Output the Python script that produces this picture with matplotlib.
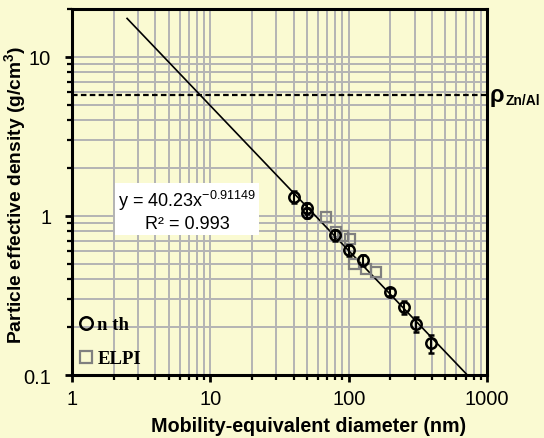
import numpy as np
import matplotlib
matplotlib.use("Agg")
import matplotlib.pyplot as plt
from matplotlib.lines import Line2D
from matplotlib.ticker import LogLocator, NullFormatter, FixedLocator, FixedFormatter
import matplotlib.transforms as mtransforms

plt.rcParams["font.family"] = ["Liberation Sans", "DejaVu Sans"]
plt.rcParams["mathtext.fontset"] = "custom"
plt.rcParams["mathtext.rm"] = "Liberation Sans"
plt.rcParams["mathtext.it"] = "Liberation Sans:italic"
plt.rcParams["mathtext.bf"] = "Liberation Sans:bold"

# Données
nth_d = [40.5, 50, 50, 80, 100, 126, 200, 250, 305, 395]
nth_rho = [1.32, 1.12, 1.05, 0.76, 0.61, 0.525, 0.333, 0.268, 0.208, 0.158]
nth_err = [0.12, 0.09, 0.08, 0.06, 0.05, 0.04, 0.02, 0.025, 0.022, 0.02]

elpi_d = [69, 81.5, 90.5, 101.5, 110, 134, 158]
elpi_rho = [0.99, 0.79, 0.75, 0.72, 0.50, 0.466, 0.445]

fit_a = 40.23
fit_b = -0.91149
fit_range = [2.5, 720]
rho_znal = 5.8

bg = "#fafad2"
fig = plt.figure(figsize=(5.44, 4.39), dpi=100, facecolor=bg)
ax = fig.add_axes([0.1324, 0.1435, 0.7629, 0.8337])
ax.set_facecolor(bg)

ax.set_xscale("log")
ax.set_yscale("log")
ax.set_xlim(1, 1000)
ax.set_ylim(0.1, 20)

# grille majeure + mineure
ax.grid(True, which="both", color="#b4b4b4", linewidth=1.4, zorder=0)
ax.set_axisbelow(True)

# courbe d'ajustement
xf = np.logspace(np.log10(fit_range[0]), np.log10(fit_range[1]), 50)
ax.plot(xf, fit_a * xf ** fit_b, color="black", linewidth=1.2, zorder=3)

# densité Zn/Al
ax.axhline(rho_znal, color="black", linestyle=(0, (2.5, 1.5)), linewidth=1.6, zorder=3)
trans = mtransforms.blended_transform_factory(ax.transAxes, ax.transData)
ax.text(1.006, rho_znal, "ρ", transform=trans, fontsize=17, fontweight="bold",
        va="center", ha="left", clip_on=False)
ax.text(1.044, rho_znal * 0.93, "Zn/Al", transform=trans, fontsize=10, fontweight="bold",
        va="center", ha="left", clip_on=False)

# points
ax.plot(elpi_d, elpi_rho, linestyle="none", marker="s", markersize=7.5,
        markerfacecolor="none", markeredgecolor="#808080", markeredgewidth=1.6, zorder=4)
ax.errorbar(nth_d, nth_rho, yerr=nth_err, fmt="o", markersize=7.5,
            markerfacecolor="none", markeredgecolor="black", markeredgewidth=1.8,
            ecolor="black", elinewidth=1.5, capsize=2, zorder=5)

# équation
ax.text(0.277, 0.451, "y = 40.23x$^{-0.91149}$\nR² = 0.993", transform=ax.transAxes,
        fontsize=13, ha="center", va="center", linespacing=1.25,
        bbox=dict(facecolor="white", edgecolor="none", boxstyle="square,pad=0.15"), zorder=6)

# légende
handles = [
    Line2D([], [], linestyle="none", marker="o", markersize=9, markerfacecolor="none",
           markeredgecolor="black", markeredgewidth=1.8, label="n th"),
    Line2D([], [], linestyle="none", marker="s", markersize=9, markerfacecolor="none",
           markeredgecolor="#808080", markeredgewidth=1.6, label="ELPI"),
]
ax.legend(handles=handles, loc="lower left", bbox_to_anchor=(-0.025, -0.025), frameon=False,
          handlelength=0.8, handletextpad=0.2, labelspacing=0.9,
          prop=dict(family="Liberation Serif", weight="bold", size=13.5))

# axes
for s in ax.spines.values():
    s.set_linewidth(2.2)
    s.set_color("black")
ax.xaxis.set_major_locator(FixedLocator([1, 10, 100, 1000]))
ax.xaxis.set_major_formatter(FixedFormatter(["1", "10", "100", "1000"]))
ax.yaxis.set_major_locator(FixedLocator([0.1, 1, 10]))
ax.yaxis.set_major_formatter(FixedFormatter(["0.1", "1", "10"]))
ax.xaxis.set_minor_locator(LogLocator(base=10, subs=np.arange(2, 10)))
ax.yaxis.set_minor_locator(LogLocator(base=10, subs=np.arange(2, 10)))
ax.xaxis.set_minor_formatter(NullFormatter())
ax.yaxis.set_minor_formatter(NullFormatter())
ax.tick_params(which="major", direction="out", length=5, width=2, labelsize=14.5)
ax.tick_params(which="minor", direction="out", length=3.5, width=1.6)
ax.tick_params(axis="x", which="major", pad=5)
ax.tick_params(axis="y", which="major", pad=10)

ax.set_xlabel("Mobility-equivalent diameter (nm)", fontsize=14.2, fontweight="bold")
ax.xaxis.set_label_coords(0.571, -0.112)
ax.set_ylabel("Particle effective density (g/cm$^\\mathbf{3}$)", fontsize=13.9,
              fontweight="bold")
ax.yaxis.set_label_coords(-0.105, 0.495)

fig.savefig("out.png", dpi=100, facecolor=bg)
